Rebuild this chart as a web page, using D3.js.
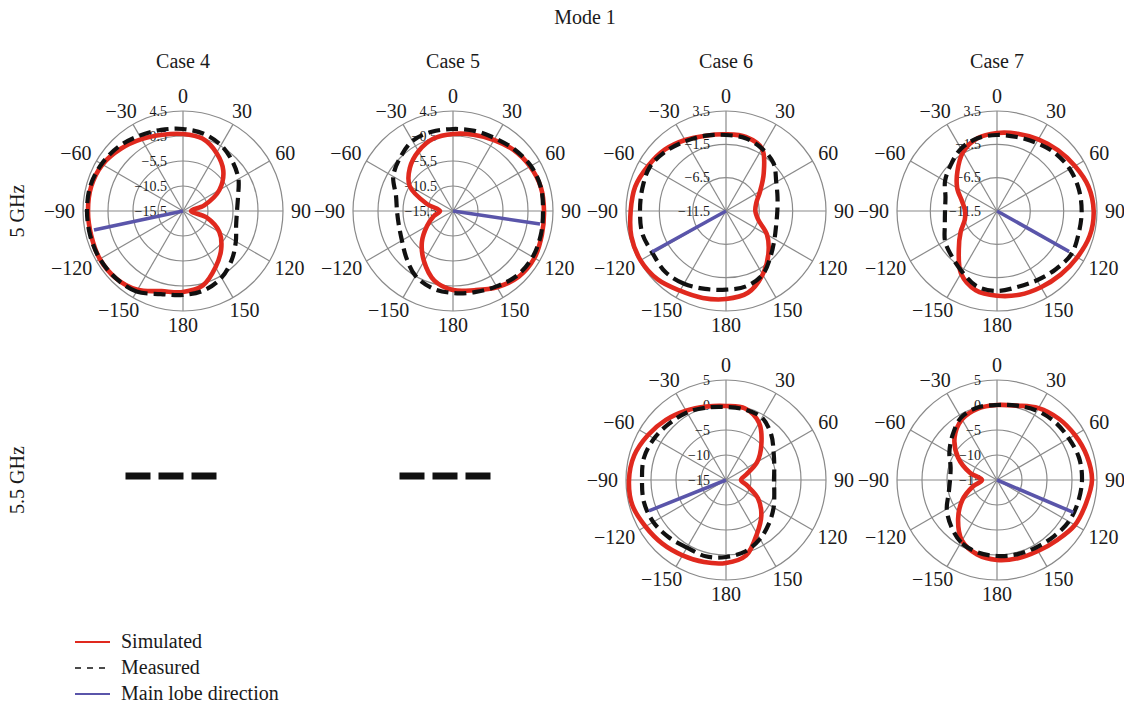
<!DOCTYPE html>
<html><head><meta charset="utf-8">
<script src="https://cdn.jsdelivr.net/npm/d3@7"></script>
<style>
body{margin:0;background:#fff}
svg text{font-family:'Liberation Serif','Times New Roman','DejaVu Serif',serif;fill:#1a1a1a}
</style>
</head><body>
<svg id="chart" width="1124" height="705" font-family="Liberation Serif, serif"></svg>
<script>
// ---------------- data ----------------
const title = "Mode 1";
const caseNames = ["Case 4", "Case 5", "Case 6", "Case 7"];
const freqLabels = ["5 GHz", "5.5 GHz"];
const legendNames = ["Simulated", "Measured", "Main lobe direction"];
const angleTicks = [0, 30, 60, 90, 120, 150, 180, -150, -120, -90, -60, -30];

// azimuth of each sample (deg, 0 = top, clockwise)
const angles = [-165,-150,-135,-120,-105,-90,-75,-60,-45,-30,-15,0,15,30,45,60,75,90,105,120,135,150,165,180];

// radial tick labels (dB), outer -> centre
const ticksA = [4.5, -0.5, -5.5, -10.5, -15.5];
const ticksB = [3.5, -1.5, -6.5, -11.5];
const ticksC = [5, 0, -5, -10, -15];

// 5 GHz, Case 4
const sim_c4_5  = [1.1,2.7,3.5,3.7,3.5,3.5,3.5,3.1,2.1,1.1,0.3,-0.1,-0.5,-2.1,-4.1,-7.1,-11.1,-13.9,-10.7,-7.1,-4.7,-2.5,-0.1,0.7];
const meas_c4_5 = [1.7,3.1,3.5,3.7,3.7,3.7,3.7,3.3,2.7,1.9,1.3,0.9,0.5,-0.3,-1.5,-2.7,-4.1,-4.7,-4.5,-3.3,-1.7,-0.1,0.9,1.3];
const lobe_c4_5 = [-102, 2.7];
// 5 GHz, Case 5
const sim_c5_5  = [-1.1,-3.9,-6.7,-9.5,-11.5,-12.9,-10.1,-5.5,-3.3,-1.7,-0.5,-0.1,0.3,0.9,1.7,2.3,2.7,2.7,2.9,3.3,3.1,2.1,0.9,0.3];
const meas_c5_5 = [0.5,-0.5,-2.3,-3.7,-4.3,-4.3,-3.7,-1.7,-0.5,0.7,0.9,0.9,1.1,1.3,1.9,2.5,2.7,2.5,2.7,2.9,2.7,1.9,1.3,0.9];
const lobe_c5_5 = [98.5, 2.1];
// 5 GHz, Case 6
const sim_c6_5  = [2.0,2.3,3.0,3.3,3.2,2.8,2.6,2.0,1.5,0.8,0.2,0.0,0.0,-0.7,-3.5,-5.6,-6.8,-7.1,-6.5,-4.4,-2.5,-0.5,1.2,1.7];
const meas_c6_5 = [0.6,1.1,1.4,1.2,1.5,1.4,1.5,1.7,1.2,0.6,0.2,-0.1,-0.2,-0.7,-1.4,-2.8,-3.5,-3.8,-3.7,-3.1,-2.0,-0.5,0.2,0.3];
const lobe_c6_5 = [-119, 1.2];
// 5 GHz, Case 7
const sim_c7_5  = [0.8,-0.7,-3.4,-5.2,-6.5,-6.7,-6.1,-4.6,-3.1,-1.3,-0.2,0.2,0.5,0.9,1.4,2.0,2.7,3.0,2.9,2.4,2.0,1.7,1.5,1.2];
const meas_c7_5 = [0.2,-1.0,-1.9,-2.5,-3.4,-3.7,-3.5,-2.5,-1.7,-0.7,-0.2,-0.1,0.0,0.3,0.8,1.1,1.2,1.2,1.2,1.4,0.9,0.5,0.3,0.5];
const lobe_c7_5 = [119.3, 0.9];
// 5.5 GHz, Case 6
const sim_c6_55  = [2.0,2.4,3.0,3.6,4.4,4.4,4.0,3.0,2.0,1.0,0.2,-0.2,-0.2,-1.8,-5.0,-7.8,-10.8,-12.0,-10.6,-7.6,-5.0,-2.6,0.6,1.6];
const meas_c6_55 = [0.8,0.6,1.2,1.8,2.0,1.8,2.0,1.6,1.0,0.6,0.0,-0.4,-0.4,-0.6,-2.2,-4.0,-5.0,-5.4,-5.0,-4.0,-2.8,-1.4,-0.2,0.4];
const lobe_c6_55 = [-111.8, 1.6];
// 5.5 GHz, Case 7
const sim_c7_55  = [0.4,-1.0,-4.0,-7.0,-10.0,-12.0,-9.4,-6.0,-3.0,-1.0,-0.2,0.0,0.4,1.6,2.4,3.0,3.6,4.0,3.4,3.0,2.0,1.4,1.2,1.0];
const meas_c7_55 = [0.0,-0.6,-2.0,-3.4,-5.0,-5.6,-5.4,-4.0,-2.4,-0.6,0.0,0.0,0.4,1.0,1.4,1.6,2.0,2.0,1.8,1.6,1.0,0.6,0.4,0.2];
const lobe_c7_55 = [113, 1.6];

// ---------------- layout / style ----------------
const R = 100;
const colX = [183, 453, 726, 997];
const rowY = [211, 480];
const RED = "#e0291e", BLUE = "#5a55aa", GRID = "#8a8a8a";
const FONT = "'Liberation Serif', 'Times New Roman', serif";

const panels = [
  {col:0,row:0,ticks:ticksA,sim:sim_c4_5,meas:meas_c4_5,lobe:lobe_c4_5},
  {col:1,row:0,ticks:ticksA,sim:sim_c5_5,meas:meas_c5_5,lobe:lobe_c5_5},
  {col:2,row:0,ticks:ticksB,sim:sim_c6_5,meas:meas_c6_5,lobe:lobe_c6_5},
  {col:3,row:0,ticks:ticksB,sim:sim_c7_5,meas:meas_c7_5,lobe:lobe_c7_5},
  {col:2,row:1,ticks:ticksC,sim:sim_c6_55,meas:meas_c6_55,lobe:lobe_c6_55},
  {col:3,row:1,ticks:ticksC,sim:sim_c7_55,meas:meas_c7_55,lobe:lobe_c7_55}
];
const emptyCells = [{col:0,row:1,dx:-12},{col:1,row:1,dx:-8}];

const svg = d3.select("#chart");
const fmt = v => String(v).replace("-", "\u2212");
const txt = (sel, size) => sel.append("text").style("font-family", FONT).style("font-size", size + "px").style("fill", "#1a1a1a");

// title
txt(svg, 20).attr("x", 585).attr("y", 24).attr("text-anchor","middle").text(title);
// case titles
caseNames.forEach((c,i) => {
  txt(svg, 20).attr("x", colX[i]).attr("y", 68).attr("text-anchor","middle").text(c);
});
// row labels
freqLabels.forEach((f,i) => {
  txt(svg, 20).attr("transform", `translate(24,${rowY[i]}) rotate(-90)`)
    .attr("text-anchor","middle").text(f);
});

const toRad = d => d * Math.PI / 180;

panels.forEach(p => {
  const cx = colX[p.col], cy = rowY[p.row];
  const lo = d3.min(p.ticks), hi = d3.max(p.ticks);
  const r = d3.scaleLinear().domain([lo, hi]).range([0, R]);
  const g = svg.append("g").attr("transform", `translate(${cx},${cy})`);

  // grid circles
  g.selectAll("circle.ring").data(p.ticks.filter(t => t !== lo)).join("circle")
    .attr("r", d => r(d)).attr("fill","none").attr("stroke",GRID).attr("stroke-width",1.2);
  // spokes
  const spokes = d3.range(0, 360, 30);
  g.selectAll("line.spoke").data(spokes).join("line")
    .attr("x1",0).attr("y1",0)
    .attr("x2", d => R*Math.sin(toRad(d))).attr("y2", d => -R*Math.cos(toRad(d)))
    .attr("stroke",GRID).attr("stroke-width",1.2);
  // radial tick labels
  p.ticks.forEach(d => {
    txt(g, 14).attr("x", -16).attr("y", -r(d) + 4.5).attr("text-anchor","end").text(fmt(d));
  });
  // angle labels
  angleTicks.forEach(a => {
    const t = txt(g, 20).attr("text-anchor","middle").text(fmt(a));
    const w = t.node().getComputedTextLength();
    const s = Math.sin(toRad(a)), c = Math.cos(toRad(a));
    const x = (R+8)*s + (w/2)*s;
    const y = -(R+8)*c - 6.6*c;
    t.attr("x", x).attr("y", y + 6.6);
  });

  const pts = arr => arr.map((v,i) => ({a: angles[i], v}));
  const line = d3.lineRadial().angle(d => toRad(d.a)).radius(d => r(d.v))
    .curve(d3.curveCatmullRomClosed.alpha(0.5));

  g.append("path").attr("d", line(pts(p.sim))).attr("fill","none")
    .attr("stroke",RED).attr("stroke-width",4.6).attr("stroke-linejoin","round");
  g.append("path").attr("d", line(pts(p.meas))).attr("fill","none")
    .attr("stroke","#111").attr("stroke-width",4.2).attr("stroke-dasharray","12,6");
  g.append("line").attr("x1",0).attr("y1",0)
    .attr("x2", r(p.lobe[1])*Math.sin(toRad(p.lobe[0])))
    .attr("y2", -r(p.lobe[1])*Math.cos(toRad(p.lobe[0])))
    .attr("stroke",BLUE).attr("stroke-width",3.6);
});

// empty cells: "---"
emptyCells.forEach(e => {
  const cx = colX[e.col] + e.dx, cy = rowY[e.row] - 4;
  [-1,0,1].forEach(k => {
    svg.append("rect").attr("x", cx + k*33 - 12.5).attr("y", cy - 3.5)
      .attr("width", 25).attr("height", 7).attr("fill","#111");
  });
});

// legend
const legY = [642, 668, 694];
legendNames.forEach((n,i) => {
  const l = svg.append("line").attr("x1",75).attr("x2",110).attr("y1",legY[i]).attr("y2",legY[i])
    .attr("stroke", i===0 ? RED : i===1 ? "#111" : BLUE).attr("stroke-width", 2);
  if (i===1) l.attr("stroke-dasharray","6,6").attr("stroke-width",1.5);
  txt(svg, 20).attr("x",121).attr("y",legY[i]+6).text(n);
});
</script>
</body></html>
